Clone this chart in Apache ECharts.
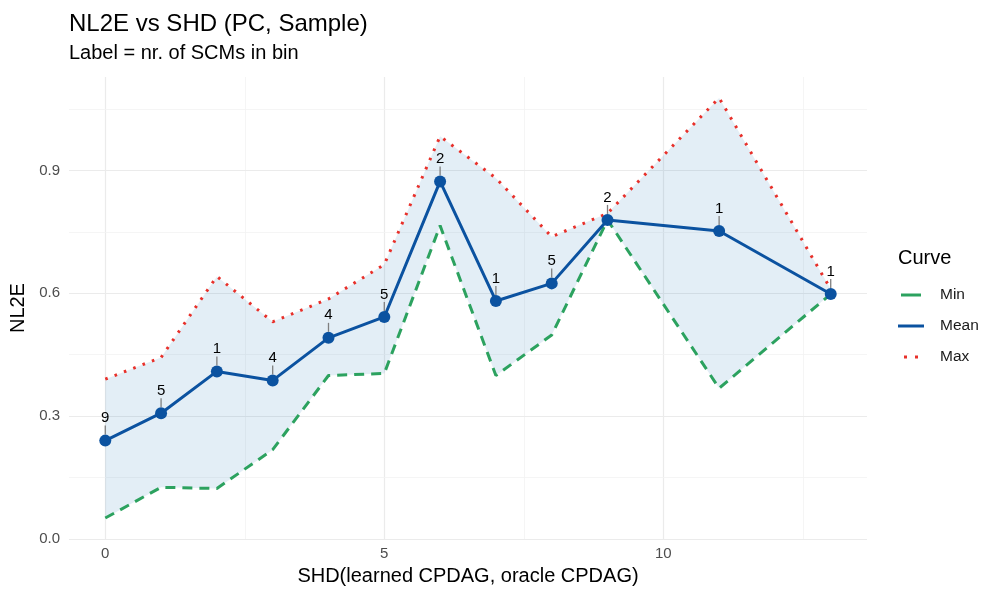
<!DOCTYPE html>
<html><head><meta charset="utf-8">
<script src="https://cdn.jsdelivr.net/npm/echarts@6/dist/echarts.min.js"></script>
<style>html,body{margin:0;padding:0;background:#fff}#c{width:982px;height:591px}</style>
</head><body><div id="c"></div>
<script>
const shd = [0,1,2,3,4,5,6,7,8,9,11,13];
const meanVals = [0.240,0.307,0.409,0.387,0.491,0.542,0.873,0.581,0.624,0.779,0.752,0.598];
const minVals  = [0.051,0.126,0.123,0.218,0.399,0.404,0.765,0.399,0.498,0.779,0.368,0.598];
const maxVals  = [0.390,0.443,0.641,0.530,0.586,0.670,0.983,0.881,0.738,0.795,1.077,0.610];
const counts   = [9,5,1,4,4,5,2,1,5,2,1,1];
const xTicks = [0,5,10];
const xMinorGrid = [2.5,7.5,12.5];
const yTicks = [0,0.3,0.6,0.9];
const yMinorGrid = [0.15,0.45,0.75,1.05];

const FONT = "'Liberation Sans', Arial, sans-serif";
const chart = echarts.init(document.getElementById('c'), null, {renderer:'canvas'});

const gridLines = [];
xTicks.forEach(v => gridLines.push({xAxis:v, lineStyle:{color:'#ebebeb', width:1.2, type:'solid'}}));
xMinorGrid.forEach(v => gridLines.push({xAxis:v, lineStyle:{color:'#f2f2f2', width:0.8, type:'solid'}}));
yTicks.forEach(v => gridLines.push({yAxis:v, lineStyle:{color:'#ebebeb', width:1.2, type:'solid'}}));
yMinorGrid.forEach(v => gridLines.push({yAxis:v, lineStyle:{color:'#f2f2f2', width:0.8, type:'solid'}}));

const meanColor = '#0b52a0', minColor = '#2ca25f', maxColor = '#e8302a';

chart.setOption({
  animation:false,
  backgroundColor:'#fff',
  textStyle:{fontFamily:FONT},
  title:[
    {text:'NL2E vs SHD (PC, Sample)', left:69, top:12, padding:0, textStyle:{fontSize:24, fontWeight:'normal', color:'#000', fontFamily:FONT}},
    {text:'Label = nr. of SCMs in bin', left:69, top:43, padding:0, textStyle:{fontSize:20, fontWeight:'normal', color:'#000', fontFamily:FONT}},
    {text:'Curve', left:898, top:248, padding:0, textStyle:{fontSize:20, fontWeight:'normal', color:'#000', fontFamily:FONT}}
  ],
  legend:{
    orient:'vertical', left:898, top:287, itemWidth:26, itemHeight:3, itemGap:15, padding:0,
    selectedMode:false,
    textStyle:{fontSize:15.5, color:'#1a1a1a', fontFamily:FONT, lineHeight:16, padding:[0,0,0,11]},
    data:[
      {name:'Min', icon:'path://M0,0H20V3H0Z'},
      {name:'Mean', icon:'path://M0,0H26V3H0Z'},
      {name:'Max', icon:'path://M0,0H3V3H0Z M11,0H14V3H11Z'}
    ]
  },
  grid:{left:69, right:115, top:77, bottom:47},
  xAxis:{
    type:'value', min:-0.65, max:13.65,
    name:'SHD(learned CPDAG, oracle CPDAG)', nameLocation:'middle', nameGap:26,
    nameTextStyle:{fontSize:20, color:'#000', fontFamily:FONT},
    axisLine:{show:false}, axisTick:{show:false}, splitLine:{show:false},
    axisLabel:{customValues:xTicks, fontSize:15, color:'#4d4d4d', margin:7, fontFamily:FONT}
  },
  yAxis:{
    type:'value', min:-0.0005, max:1.128,
    name:'NL2E', nameLocation:'middle', nameGap:35, nameRotate:90,
    nameTextStyle:{fontSize:20, color:'#000', fontFamily:FONT},
    axisLine:{show:false}, axisTick:{show:false}, splitLine:{show:false},
    axisLabel:{customValues:yTicks, fontSize:15, color:'#4d4d4d', margin:9, fontFamily:FONT,
      formatter:v => v.toFixed(1)}
  },
  series:[
    {type:'line', name:'grid', data:[], silent:true, z:0,
      markLine:{silent:true, z:0, zlevel:0, symbol:['none','none'], label:{show:false}, animation:false, data:gridLines}},
    {type:'custom', name:'ribbon', silent:true, z:1,
      data: shd.map((x,i)=>[x, minVals[i], maxVals[i]]),
      renderItem:function(params, api){
        if (params.dataIndex !== 0) return null;
        const pts = [];
        for (let i=0;i<shd.length;i++) pts.push(api.coord([shd[i], maxVals[i]]));
        for (let i=shd.length-1;i>=0;i--) pts.push(api.coord([shd[i], minVals[i]]));
        return {type:'polygon', shape:{points:pts}, style:{fill:'rgba(22,113,180,0.12)'}};
      }},
    {type:'line', name:'Min', data: shd.map((x,i)=>[x, minVals[i]]), symbol:'none', z:3,
      color:minColor, lineStyle:{color:minColor, width:3, type:[10,7], cap:'butt'}},
    {type:'line', name:'Max', data: shd.map((x,i)=>[x, maxVals[i]]), symbol:'none', z:3,
      color:maxColor, lineStyle:{color:maxColor, width:3, type:[2.6,7.4], cap:'butt'}},
    {type:'line', name:'Mean', data: shd.map((x,i)=>[x, meanVals[i]]), symbol:'circle', symbolSize:12, z:4,
      color:meanColor, itemStyle:{color:meanColor}, lineStyle:{color:meanColor, width:3}},
    {type:'custom', name:'labels', silent:true, z:5,
      data: shd.map((x,i)=>[x, meanVals[i], counts[i]]),
      renderItem:function(params, api){
        const p = api.coord([api.value(0), api.value(1)]);
        return {type:'group', children:[
          {type:'line', shape:{x1:p[0], y1:p[1]-6, x2:p[0], y2:p[1]-15}, style:{stroke:'#7f7f7f', lineWidth:1.3}},
          {type:'text', style:{text:String(api.value(2)), x:p[0], y:p[1]-15, align:'center', verticalAlign:'bottom',
            fontSize:15, fill:'#000', fontFamily:FONT}}
        ]};
      }}
  ]
});
</script></body></html>
